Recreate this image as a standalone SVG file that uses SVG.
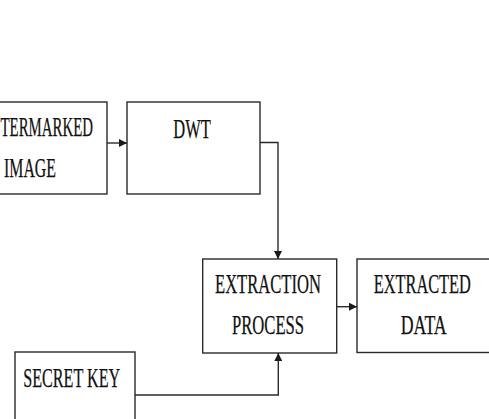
<svg xmlns="http://www.w3.org/2000/svg" width="489" height="419" viewBox="0 0 489 419">
<style>
.box{fill:#fff;stroke:#2a2a2a;stroke-width:1.4}
.t{font-family:"Liberation Serif","Times New Roman",serif;font-size:26.5px;fill:#111;stroke:#111;stroke-width:0.25;text-anchor:middle}
.c{fill:none;stroke:#2a2a2a;stroke-width:1.4}
</style>
<defs>
<marker id="ah" viewBox="0 0 10 10" refX="10" refY="5" markerWidth="8" markerHeight="8" markerUnits="userSpaceOnUse" orient="auto">
<path d="M0,0 L10,5 L0,10 z" fill="#1a1a1a"/>
</marker>
</defs>
<rect width="489" height="419" fill="#fff"/>
<g id="watermarked">
<rect class="box" x="-48" y="102" width="155" height="92"/>
<text class="t" x="0.5" y="136" textLength="92.5" lengthAdjust="spacingAndGlyphs" style="text-anchor:start">TERMARKED</text>
<text class="t" x="30" y="177" textLength="52" lengthAdjust="spacingAndGlyphs">IMAGE</text>
</g>
<g id="dwt">
<rect class="box" x="127" y="102" width="133" height="92"/>
<text class="t" x="192" y="138.3" textLength="37.5" lengthAdjust="spacingAndGlyphs">DWT</text>
</g>
<g id="extraction">
<rect class="box" x="202.7" y="259" width="134" height="94"/>
<text class="t" x="268" y="293.3" textLength="106" lengthAdjust="spacingAndGlyphs">EXTRACTION</text>
<text class="t" x="268" y="334.3" textLength="72" lengthAdjust="spacingAndGlyphs">PROCESS</text>
</g>
<g id="extracted">
<rect class="box" x="357" y="259" width="135" height="93.5"/>
<text class="t" x="422.3" y="293.3" textLength="97" lengthAdjust="spacingAndGlyphs">EXTRACTED</text>
<text class="t" x="423.7" y="334.3" textLength="46" lengthAdjust="spacingAndGlyphs">DATA</text>
</g>
<g id="secretkey">
<rect class="box" x="15" y="352" width="120" height="80"/>
<text class="t" x="71.7" y="387.3" textLength="97" lengthAdjust="spacingAndGlyphs">SECRET KEY</text>
</g>
<g id="connectors">
<path class="c" d="M107,143 L127,143" marker-end="url(#ah)"/>
<path class="c" d="M260,142.5 L278,142.5 L278,259" marker-end="url(#ah)"/>
<path class="c" d="M336.7,306.7 L357,306.7" marker-end="url(#ah)"/>
<path class="c" d="M135,395 L278.3,395 L278.3,353" marker-end="url(#ah)"/>
</g>
</svg>
